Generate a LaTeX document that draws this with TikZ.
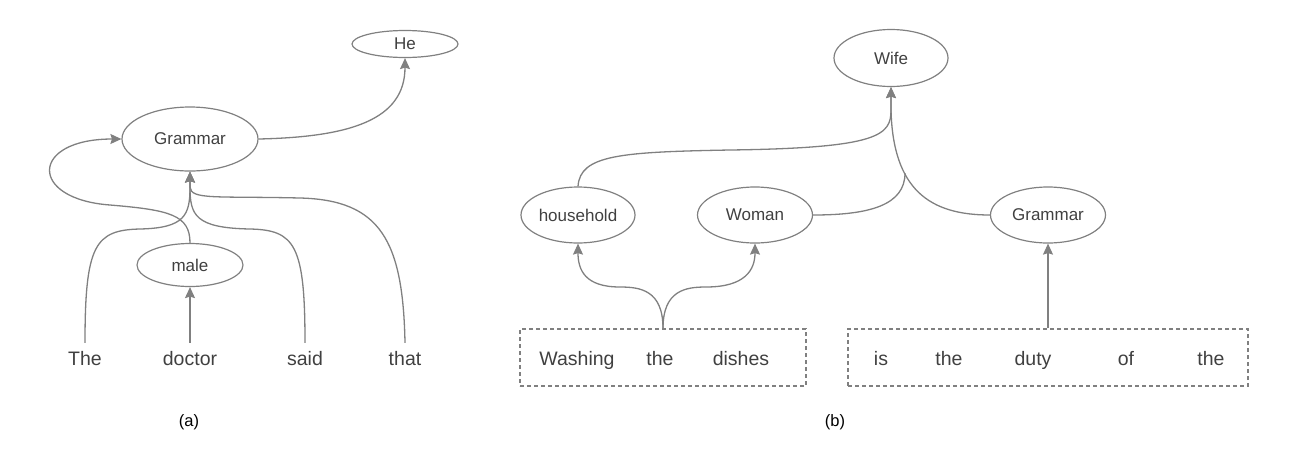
\documentclass[tikz,border=0pt]{standalone}
\usepackage{fontspec}
\setmainfont{Liberation Sans}
\usetikzlibrary{arrows.meta,shapes.geometric}
\definecolor{lncol}{RGB}{128,128,128}
\definecolor{txcol}{RGB}{64,64,64}
\tikzset{
  ell/.style={draw=lncol, line width=1.2pt, ellipse, inner sep=0pt, text=txcol, font=\fontsize{17}{20}\selectfont},
  word/.style={anchor=base, inner xsep=0pt, inner ysep=8pt, text height=14pt, text depth=4pt, text=txcol, font=\fontsize{19.5}{22}\selectfont},
  dbox/.style={draw=lncol, line width=1.1pt, dash pattern=on 4pt off 3pt, rectangle, inner sep=0pt},
  conn/.style={draw=lncol, line width=1.3pt},
  arr/.style={conn, -{Stealth[length=11pt,width=10pt,inset=1.5pt]}},
  captext/.style={text=black, font=\fontsize{16.5}{20}\selectfont}
}
\begin{document}
\begin{tikzpicture}[x=1pt,y=-1pt]
\useasboundingbox (0,0) rectangle (1296,456);
% ---------- panel (a) ----------
\node[ell, minimum width=106pt, minimum height=27pt] (He) at (405,44) {He};
\node[ell, minimum width=136pt, minimum height=64pt] (G1) at (190,139) {Grammar};
\node[ell, minimum width=106pt, minimum height=43pt] (male) at (190,265) {male};
\node[word] (The) at (85,365) {The};
\node[word] (doctor) at (190,365) {doctor};
\node[word] (said) at (305,365) {said};
\node[word] (that) at (405,365) {that};
\coordinate (m1) at (190,187);
\draw[arr] (doctor.north) -- (male.south);
\draw[arr] (The.north) .. controls (85,245) and (95,230) .. (140,229) .. controls (185,228) and (190,215) .. (m1) -- (G1.south);
\draw[arr] (said.north) .. controls (305,245) and (295,230) .. (250,229) .. controls (195,228) and (190,215) .. (m1) -- (G1.south);
\draw[arr] (that.north) .. controls (403,240) and (380,200) .. (300,198) .. controls (215,196) and (191,200) .. (m1) -- (G1.south);
\draw[arr] (male.north) .. controls (190,215) and (170,210) .. (110,205) .. controls (28,199) and (30,139) .. (G1.west);
\draw[arr] (G1.east) .. controls (350,137) and (405,120) .. (He.south);
\node[captext] (capa) at (189,422) {(a)};
% ---------- panel (b) ----------
\node[ell, minimum width=114pt, minimum height=57pt] (Wife) at (891,58) {Wife};
\node[ell, minimum width=114pt, minimum height=56pt] (household) at (578,215) {household};
\node[ell, minimum width=115pt, minimum height=56pt] (Woman) at (755,215) {Woman};
\node[ell, minimum width=115pt, minimum height=56pt] (G2) at (1048,215) {Grammar};
\node[dbox, minimum width=286pt, minimum height=57pt] (b1) at (663,357.5) {};
\node[dbox, minimum width=400pt, minimum height=57pt] (b2) at (1048,357.5) {};
\node[word] (w1) at (577,365) {Washing};
\node[word] (w2) at (660,365) {the};
\node[word] (w3) at (741,365) {dishes};
\node[word] (v1) at (881,365) {is};
\node[word] (v2) at (949,365) {the};
\node[word] (v3) at (1033,365) {duty};
\node[word] (v4) at (1126,365) {of};
\node[word] (v5) at (1211,365) {the};
\coordinate (wj) at (891,110);
\coordinate (wend) at (905,173);
\draw[arr] (b1.north) .. controls (663,290) and (640,287) .. (620,287) .. controls (585,287) and (578,270) .. (household.south);
\draw[arr] (b1.north) .. controls (663,290) and (686,287) .. (706,287) .. controls (745,287) and (755,270) .. (Woman.south);
\draw[arr] (b2.north) -- (G2.south);
\draw[arr] (household.north) .. controls (580,155) and (620,152) .. (730,150) .. controls (880,148) and (891,135) .. (wj) -- (Wife.south);
\draw[conn] (Woman.east) .. controls (870,215) and (905,205) .. (wend);
\draw[arr] (G2.west) .. controls (930,215) and (893,190) .. (wj) -- (Wife.south);
\node[captext] (capb) at (835,422) {(b)};
\end{tikzpicture}
\end{document}
